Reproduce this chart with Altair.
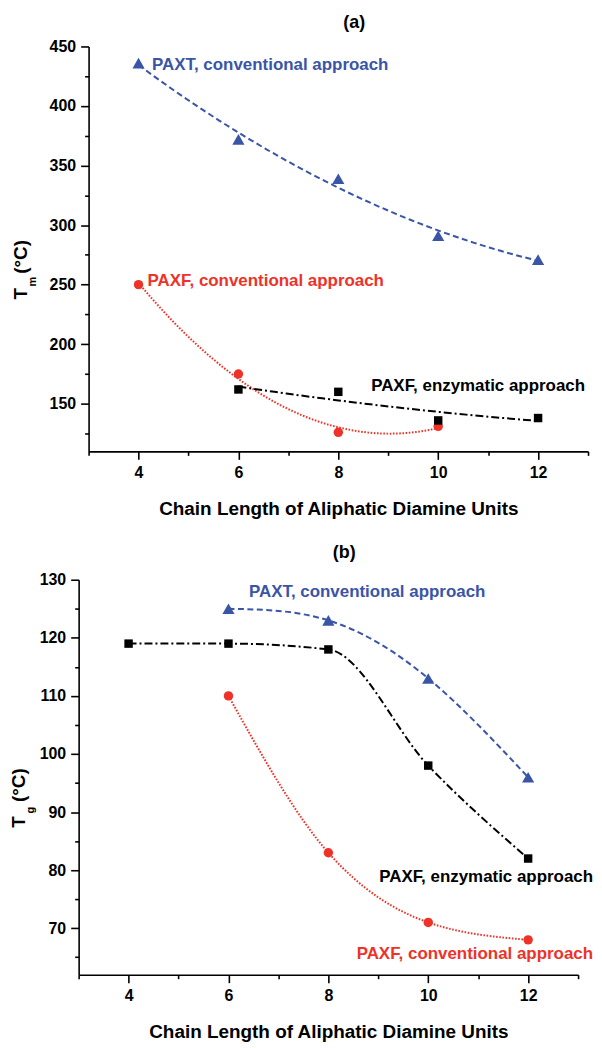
import altair as alt
import pandas as pd

# ---------------- data ----------------
# panel (a): melting temperature Tm
chain_a_paxt = [4, 6, 8, 10, 12]
tm_paxt = [436, 372, 339, 291, 271]
chain_a_conv = [4, 6, 8, 10]
tm_paxf_conv = [250, 175, 126, 131]
chain_a_enz = [6, 8, 10, 12]
tm_paxf_enz = [162, 160, 136, 138]

# panel (b): glass transition temperature Tg
chain_b_paxt = [6, 8, 10, 12]
tg_paxt = [125, 123, 113, 96]
chain_b_enz = [4, 6, 8, 10, 12]
tg_paxf_enz = [119, 119, 118, 98, 82]
chain_b_conv = [6, 8, 10, 12]
tg_paxf_conv = [110, 83, 71, 68]

series_names = ["PAXT, conventional approach",
                "PAXF, conventional approach",
                "PAXF, enzymatic approach"]

x_major = [4, 6, 8, 10, 12]
x_minor = [3, 5, 7, 9, 11, 13]
ya_major = [150, 200, 250, 300, 350, 400, 450]
ya_minor = [125, 175, 225, 275, 325, 375, 425]
yb_major = [70, 80, 90, 100, 110, 120, 130]
yb_minor = [65, 75, 85, 95, 105, 115, 125]

x_title = "Chain Length of Aliphatic Diamine Units"

# ---------------- styling ----------------
FONT = "Liberation Sans"
BLUE = "#3a55a6"
RED = "#ee3228"
BLACK = "#000000"
W = 502
HA = 407
HB = 397
SHIFT_B = 10  # panel (b) sits 10px further left than panel (a)

xs_a = alt.Scale(domain=[3, 13], nice=False, zero=False)
xs_b = alt.Scale(domain=[3, 13], nice=False, zero=False, range=[-SHIFT_B, W - SHIFT_B])
ysa = alt.Scale(domain=[110, 450], nice=False, zero=False)
ysb = alt.Scale(domain=[62, 130], nice=False, zero=False)

styles = {
    "PAXT": dict(color=BLUE, dash=[6, 3.5], shape="triangle-up", size=150),
    "CONV": dict(color=RED, dash=[1.6, 1.6], shape="circle", size=90),
    "ENZ": dict(color=BLACK, dash=[8, 3, 2, 3], shape="square", size=72),
}


def series_layers(xv, yv, key, xscale, yscale, fit=None, interp="linear"):
    st = styles[key]
    df = pd.DataFrame({"x": xv, "y": yv})
    base = alt.Chart(df)
    enc = dict(x=alt.X("x:Q", scale=xscale, axis=None),
               y=alt.Y("y:Q", scale=yscale, axis=None))
    if fit == "poly":
        line = base.transform_regression("x", "y", method="poly", order=2).mark_line(
            color=st["color"], strokeDash=st["dash"], strokeWidth=2).encode(**enc)
    else:
        line = base.mark_line(color=st["color"], strokeDash=st["dash"], strokeWidth=2,
                              interpolate=interp).encode(**enc)
    pts = base.mark_point(shape=st["shape"], filled=True, size=st["size"],
                          color=st["color"], opacity=1).encode(**enc)
    return [line, pts]


def label_layer(text, color, xval, yval, xscale, yscale, align):
    df = pd.DataFrame({"label": [text]})
    return alt.Chart(df).mark_text(
        align=align, baseline="middle", fontSize=17, fontWeight="bold",
        font=FONT, color=color
    ).encode(text="label:N",
             x=alt.XDatum(xval, scale=xscale, axis=None),
             y=alt.YDatum(yval, scale=yscale, axis=None))


AX = dict(domainColor=BLACK, domainWidth=1.6, tickColor=BLACK, tickWidth=1.6,
          labelFont=FONT, labelFontSize=16, labelFontWeight="bold", labelColor=BLACK,
          titleFont=FONT, titleFontSize=19, titleFontWeight="bold", titleColor=BLACK,
          grid=False)


def axis_layers(xscale, yscale, ymaj, ymin, xv, yv, yoff):
    df = pd.DataFrame({"x": xv, "y": yv})
    major = alt.Chart(df).mark_point(opacity=0).encode(
        x=alt.X("x:Q", scale=xscale, axis=alt.Axis(
            values=x_major, tickSize=8, orient="bottom", title=x_title,
            labelPadding=5, titlePadding=19, labelFlush=False, format="d", **AX)),
        y=alt.Y("y:Q", scale=yscale, axis=alt.Axis(
            values=ymaj, tickSize=8, orient="left", title=None, offset=yoff,
            labelPadding=5, labelFlush=False, format="d", **AX)))
    minor = alt.Chart(df).mark_point(opacity=0).encode(
        x=alt.X("x:Q", scale=xscale, axis=alt.Axis(
            values=x_minor, tickSize=4, orient="bottom", title=None,
            labels=False, domain=False, **AX)),
        y=alt.Y("y:Q", scale=yscale, axis=alt.Axis(
            values=ymin, tickSize=4, orient="left", title=None, offset=yoff,
            labels=False, domain=False, **AX)))
    return [major, minor]


def ytitle_layers(sub, H, xT):
    yT = H / 2 + 45
    parts = [
        ("T", 19, xT, yT, "center"),
        (sub, 11, xT + 12, yT - 12, "center"),
        ("(\u00b0C)", 19, xT, yT - 20, "left"),
    ]
    out = []
    for txt, fs, px, py, al in parts:
        df = pd.DataFrame({"t": [txt]})
        out.append(alt.Chart(df).mark_text(
            angle=270, align=al, baseline="middle", fontSize=fs,
            fontWeight="bold", font=FONT, color=BLACK
        ).encode(text="t:N", x=alt.value(px), y=alt.value(py)))
    return out


def panel_title(t, off, dx):
    return alt.TitleParams(text=t, fontSize=18, fontWeight="bold", font=FONT,
                           color=BLACK, dx=dx, offset=off, frame="group",
                           anchor="middle")


# ---------------- panel (a) ----------------
layers_a = []
layers_a += axis_layers(xs_a, ysa, ya_major, ya_minor, chain_a_paxt, tm_paxt, 0)
layers_a += series_layers(chain_a_paxt, tm_paxt, "PAXT", xs_a, ysa, fit="poly")
layers_a += series_layers(chain_a_conv, tm_paxf_conv, "CONV", xs_a, ysa, fit="poly")
layers_a += series_layers(chain_a_enz, tm_paxf_enz, "ENZ", xs_a, ysa, fit="poly")
layers_a.append(label_layer(series_names[0], BLUE, 4.27, 434, xs_a, ysa, "left"))
layers_a.append(label_layer(series_names[1], RED, 4.18, 252.7, xs_a, ysa, "left"))
layers_a.append(label_layer(series_names[2], BLACK, 12.94, 164.5, xs_a, ysa, "right"))
layers_a += ytitle_layers("m", HA, -68)

panel_a = alt.layer(*layers_a).resolve_axis(x="independent", y="independent").properties(
    width=W, height=HA, title=panel_title("(a)", 7, 16))

# ---------------- panel (b) ----------------
layers_b = []
layers_b += axis_layers(xs_b, ysb, yb_major, yb_minor, chain_b_enz, tg_paxf_enz, SHIFT_B)
layers_b += series_layers(chain_b_paxt, tg_paxt, "PAXT", xs_b, ysb, interp="natural")
layers_b += series_layers(chain_b_enz, tg_paxf_enz, "ENZ", xs_b, ysb, interp="monotone")
layers_b += series_layers(chain_b_conv, tg_paxf_conv, "CONV", xs_b, ysb, interp="monotone")
layers_b.append(label_layer(series_names[0], BLUE, 6.41, 127.9, xs_b, ysb, "left"))
layers_b.append(label_layer(series_names[2], BLACK, 13.3, 78.8, xs_b, ysb, "right"))
layers_b.append(label_layer(series_names[1], RED, 13.3, 65.5, xs_b, ysb, "right"))
layers_b += ytitle_layers("g", HB, -70)

panel_b = alt.layer(*layers_b).resolve_axis(x="independent", y="independent").properties(
    width=W, height=HB, title=panel_title("(b)", 10, 16 - SHIFT_B))

chart = alt.vconcat(panel_a, panel_b, spacing=26).properties(
    padding={"left": 2, "top": 3, "right": 0, "bottom": 0}
).configure(font=FONT).configure_view(stroke=None).configure_axis(**AX)

chart.save("out.html", embed_options={"renderer": "svg", "actions": False})
